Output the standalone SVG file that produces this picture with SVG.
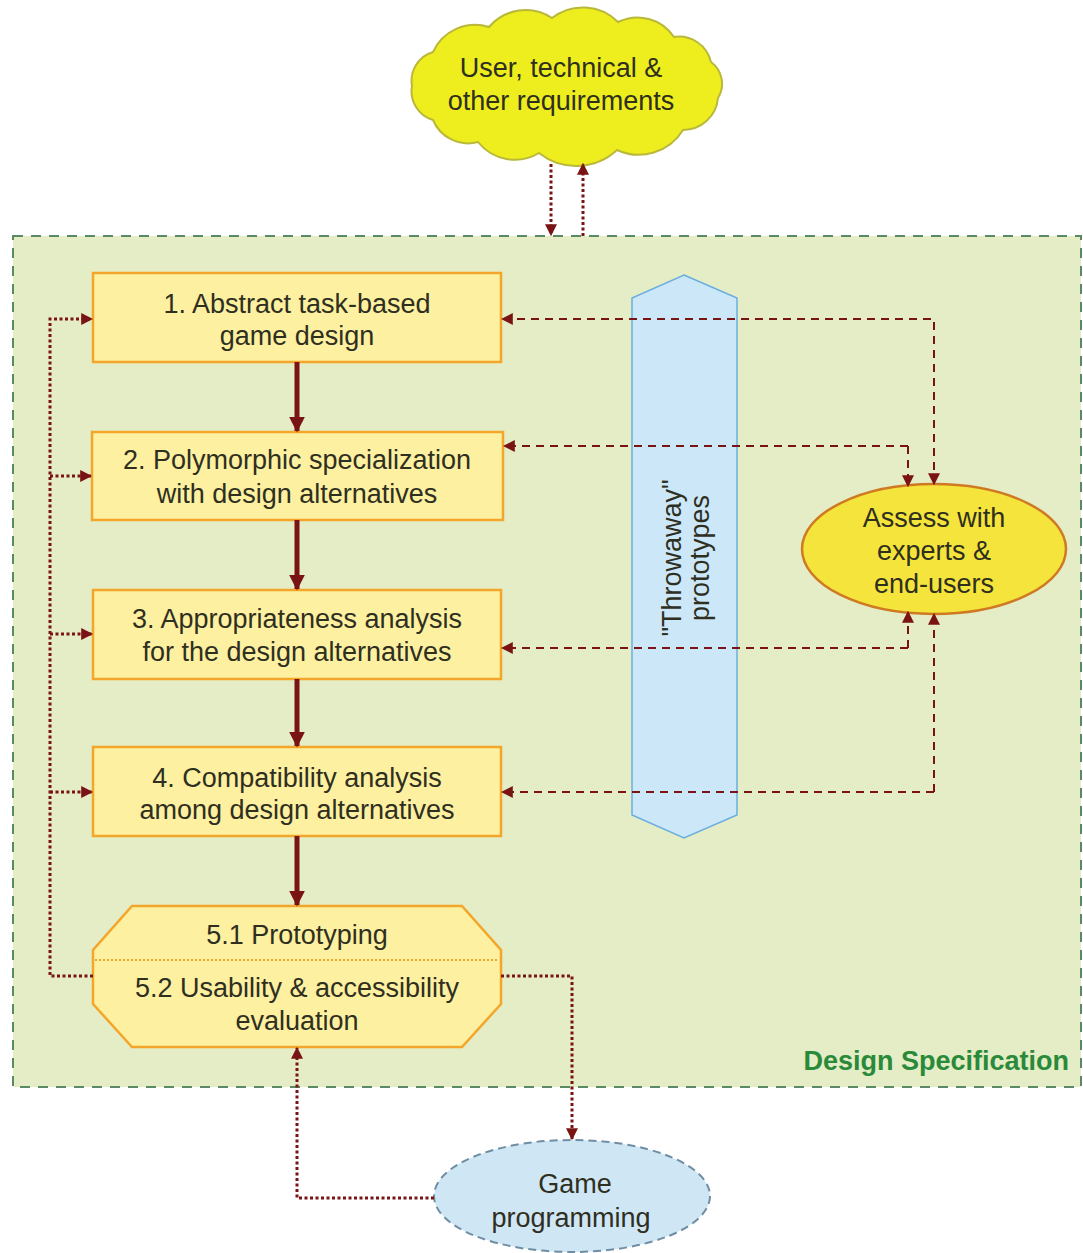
<svg xmlns="http://www.w3.org/2000/svg" width="1083" height="1253" viewBox="0 0 1083 1253">
<defs>
<marker id="ah" viewBox="0 0 10 10" refX="9" refY="5" markerWidth="12" markerHeight="12" markerUnits="userSpaceOnUse" orient="auto-start-reverse"><path d="M0,0 L10,5 L0,10 Z" fill="#7a1414"/></marker>
<marker id="ahb" viewBox="0 0 10 10" refX="9" refY="5" markerWidth="16" markerHeight="16" markerUnits="userSpaceOnUse" orient="auto"><path d="M0,0 L10,5 L0,10 Z" fill="#7a1414"/></marker>
</defs>
<style>
text{font-family:"Liberation Sans",Arial,sans-serif;font-size:27px;fill:#2f2f1f;text-anchor:middle}
.box{fill:#fdf0a0;stroke:#f3a62a;stroke-width:2.5}
.solid{stroke:#7a1414;stroke-width:5;fill:none}
.dot{stroke:#7a1414;stroke-width:3;stroke-dasharray:3 2.5;fill:none}
.dash{stroke:#7a1414;stroke-width:2;stroke-dasharray:8 6;fill:none}
</style>
<rect width="1083" height="1253" fill="#ffffff"/>
<g id="container">
<rect x="13" y="236" width="1068" height="851" fill="#e4edc6" stroke="#5a8a62" stroke-width="2" stroke-dasharray="10 8"/>
<text x="1069" y="1070" style="font-weight:bold;fill:#2a8a3a;text-anchor:end">Design Specification</text>
</g>
<g id="cloud">
<path d="M412,86 A30,30 0 0 1 433,52 A46,46 0 0 1 489,27 A48,48 0 0 1 552,18 A50,50 0 0 1 618,22 A44,44 0 0 1 674,37 A33,33 0 0 1 711,62 A27,27 0 0 1 718,98 A35,35 0 0 1 683,130 A52,52 0 0 1 617,150 A60,60 0 0 1 539,153 A47,47 0 0 1 478,142 A38,38 0 0 1 433,120 A30,30 0 0 1 412,86 Z" fill="#eeee1e" stroke="#b9b83a" stroke-width="2"/>
<text x="561" y="77">User, technical &amp;</text>
<text x="561" y="110">other requirements</text>
</g>
<g id="throwaway">
<path d="M684,275 L737,298 L737,815 L684,838 L632,815 L632,298 Z" fill="#cce8f8" stroke="#6aaedf" stroke-width="1.5"/>
<text transform="translate(684,558) rotate(-90)"><tspan x="0" y="-3">"Throwaway"</tspan><tspan x="0" y="25">prototypes</tspan></text>
</g>
<g id="box1">
<rect class="box" x="93" y="273" width="408" height="89"/>
<text x="297" y="313">1. Abstract task-based</text>
<text x="297" y="345">game design</text>
</g>
<g id="box2">
<rect class="box" x="92" y="432" width="411" height="88"/>
<text x="297" y="469">2. Polymorphic specialization</text>
<text x="297" y="503">with design alternatives</text>
</g>
<g id="box3">
<rect class="box" x="93" y="590" width="408" height="89"/>
<text x="297" y="628">3. Appropriateness analysis</text>
<text x="297" y="661">for the design alternatives</text>
</g>
<g id="box4">
<rect class="box" x="93" y="747" width="408" height="89"/>
<text x="297" y="787">4. Compatibility analysis</text>
<text x="297" y="819">among design alternatives</text>
</g>
<g id="box5">
<path class="box" d="M132,906 L462,906 L501,950 L501,1004 L462,1047 L132,1047 L93,1004 L93,950 Z"/>
<line x1="95" y1="960" x2="499" y2="960" stroke="#f3a62a" stroke-width="2" stroke-dasharray="2 2"/>
<text x="297" y="944">5.1 Prototyping</text>
<text x="297" y="997">5.2 Usability &amp; accessibility</text>
<text x="297" y="1030">evaluation</text>
</g>
<g id="assess">
<ellipse cx="934" cy="549" rx="132" ry="65" fill="#f5e43c" stroke="#cf7a22" stroke-width="2.5"/>
<text x="934" y="527">Assess with</text>
<text x="934" y="560">experts &amp;</text>
<text x="934" y="593">end-users</text>
</g>
<g id="game">
<ellipse cx="572" cy="1196" rx="138" ry="56" fill="#cfe6f5" stroke="#6f8ea3" stroke-width="2" stroke-dasharray="8 5"/>
<text x="575" y="1193">Game</text>
<text x="571" y="1227">programming</text>
</g>
<g id="connectors">
<line class="solid" x1="297" y1="362" x2="297" y2="431" marker-end="url(#ahb)"/>
<line class="solid" x1="297" y1="520" x2="297" y2="589" marker-end="url(#ahb)"/>
<line class="solid" x1="297" y1="679" x2="297" y2="746" marker-end="url(#ahb)"/>
<line class="solid" x1="297" y1="836" x2="297" y2="905" marker-end="url(#ahb)"/>
<line class="dot" x1="551" y1="164" x2="551" y2="235" marker-end="url(#ah)"/>
<line class="dot" x1="583" y1="236" x2="583" y2="164" marker-end="url(#ah)"/>
<path class="dash" d="M934,484 L934,319 L502,319" marker-start="url(#ah)" marker-end="url(#ah)"/>
<path class="dash" d="M908,446 L504,446" marker-end="url(#ah)"/>
<path class="dash" d="M908,446 L908,486" marker-end="url(#ah)"/>
<path class="dash" d="M908,648 L502,648" marker-end="url(#ah)"/>
<path class="dash" d="M908,648 L908,612" marker-end="url(#ah)"/>
<path class="dash" d="M934,792 L502,792" marker-end="url(#ah)"/>
<path class="dash" d="M934,792 L934,614" marker-end="url(#ah)"/>
<path class="dot" d="M93,976 L50,976 L50,319 L92,319" marker-end="url(#ah)"/>
<path class="dot" d="M50,476 L91,476" marker-end="url(#ah)"/>
<path class="dot" d="M50,634 L92,634" marker-end="url(#ah)"/>
<path class="dot" d="M50,792 L92,792" marker-end="url(#ah)"/>
<path class="dot" d="M501,976 L572,976 L572,1139" marker-end="url(#ah)"/>
<path class="dot" d="M434,1198 L297,1198 L297,1048" marker-end="url(#ah)"/>
</g>
</svg>
